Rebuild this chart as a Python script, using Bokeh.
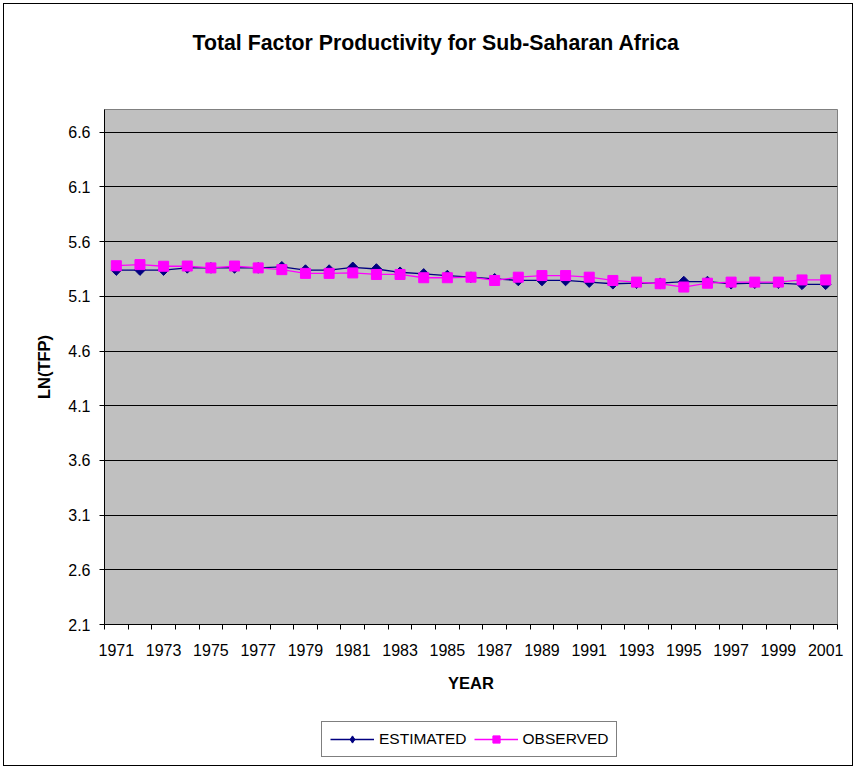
import math
from bokeh.plotting import figure
from bokeh.layouts import column
from bokeh.models import (Range1d, FixedTicker, Legend, LegendItem, ColumnDataSource,
                          NumeralTickFormatter)
from bokeh.embed import file_html
from bokeh.resources import INLINE

years = list(range(1971, 2002))
estimated = [5.34, 5.34, 5.34, 5.36, 5.36, 5.36, 5.36, 5.37, 5.34, 5.34, 5.365, 5.35, 5.32, 5.305, 5.29,
             5.275, 5.26, 5.245, 5.245, 5.245, 5.23, 5.215, 5.22, 5.22, 5.235, 5.235, 5.215, 5.22, 5.22, 5.21, 5.21]
observed = [5.38, 5.39, 5.375, 5.377, 5.36, 5.377, 5.36, 5.344, 5.31, 5.31, 5.314, 5.30, 5.30, 5.27, 5.27,
            5.275, 5.245, 5.275, 5.29, 5.29, 5.275, 5.245, 5.23, 5.215, 5.185, 5.22, 5.23, 5.23, 5.23, 5.25, 5.25]
y_ticks = [2.1, 2.6, 3.1, 3.6, 4.1, 4.6, 5.1, 5.6, 6.1, 6.6]
x_label_years = years[::2]
title_text = "Total Factor Productivity for Sub-Saharan Africa"
series_names = ["ESTIMATED", "OBSERVED"]
series_colors = ["#000080", "#FF00FF"]

FONT = "Liberation Sans"
W = 848

src = ColumnDataSource(dict(year=years, est=estimated, obs=observed))

# ---- title strip ----
p0 = figure(width=W, height=105, output_backend="svg", toolbar_location=None,
            x_axis_type=None, y_axis_type=None, x_range=Range1d(0, 1), y_range=Range1d(0, 1),
            min_border=0, outline_line_color=None)
p0.grid.visible = False
p0.title.text = title_text
p0.title.text_font = FONT
p0.title.text_font_size = "21.3px"
p0.title.text_font_style = "bold"
p0.title.text_color = "black"
p0.title.align = "left"
p0.title.offset = 88
p0.title.standoff = 48

# ---- main chart ----
p = figure(width=W, height=594, output_backend="svg", toolbar_location=None,
           x_range=Range1d(years[0] - 0.5, years[-1] + 0.5),
           y_range=Range1d(2.1, 6.808),
           min_border_left=100, min_border_right=15, min_border_top=0, min_border_bottom=79)

p.background_fill_color = "#C0C0C0"
p.border_fill_color = "white"
p.outline_line_color = "#808080"
p.outline_line_width = 1

p.yaxis.ticker = FixedTicker(ticks=y_ticks)
p.yaxis.formatter = NumeralTickFormatter(format="0.0")
p.yaxis.axis_label = "LN(TFP)"
p.yaxis.axis_label_text_font = FONT
p.yaxis.axis_label_text_font_size = "16.5px"
p.yaxis.axis_label_text_font_style = "bold"
p.yaxis.axis_label_text_color = "black"
p.yaxis.axis_label_standoff = 12
p.yaxis.major_label_text_font = FONT
p.yaxis.major_label_text_font_size = "16px"
p.yaxis.major_label_standoff = 9
p.yaxis.major_tick_out = 5
p.yaxis.major_tick_in = 0
p.yaxis.minor_tick_out = 0
p.yaxis.minor_tick_in = 0
p.yaxis.axis_line_color = "black"
p.yaxis.major_tick_line_color = "black"
p.yaxis.major_label_text_color = "black"

p.xaxis.ticker = FixedTicker(ticks=x_label_years,
                             minor_ticks=[y - 0.5 for y in years] + [years[-1] + 0.5])
p.xaxis.formatter = NumeralTickFormatter(format="0")
p.xaxis.axis_label = "YEAR"
p.xaxis.axis_label_text_font = FONT
p.xaxis.axis_label_text_font_size = "16.5px"
p.xaxis.axis_label_text_font_style = "bold"
p.xaxis.axis_label_text_color = "black"
p.xaxis.axis_label_standoff = 15
p.xaxis.major_label_text_font = FONT
p.xaxis.major_label_text_font_size = "16px"
p.xaxis.major_label_standoff = 14
p.xaxis.major_tick_out = 0
p.xaxis.major_tick_in = 0
p.xaxis.minor_tick_out = 5
p.xaxis.minor_tick_in = 0
p.xaxis.minor_tick_line_color = "black"
p.xaxis.axis_line_color = "black"
p.xaxis.major_label_text_color = "black"

p.xgrid.visible = False
p.ygrid.ticker = FixedTicker(ticks=y_ticks)
p.ygrid.grid_line_color = "black"
p.ygrid.grid_line_width = 1


def add_series(fig, legend_only=False):
    r = []
    r.append(fig.line("year", "est", source=src, line_color=series_colors[0], line_width=1.3))
    if legend_only:
        r.append(fig.scatter("year", "est", source=src, marker="diamond", size=13,
                             fill_color=series_colors[0], line_color=series_colors[0]))
    else:
        r.append(fig.scatter("year", "est", source=src, marker="square", size=7.5, angle=math.pi / 4,
                             fill_color=series_colors[0], line_color=series_colors[0]))
    r.append(fig.line("year", "obs", source=src, line_color=series_colors[1], line_width=1.3))
    r.append(fig.scatter("year", "obs", source=src, marker="square", size=10,
                         fill_color=series_colors[1], line_color=series_colors[1]))
    return r


add_series(p)

# ---- legend strip (series drawn out of view, only the legend shows) ----
p2 = figure(width=W, height=62, output_backend="svg", toolbar_location=None,
            x_axis_type=None, y_axis_type=None, x_range=Range1d(0, 1), y_range=Range1d(0, 1),
            min_border=0, outline_line_color=None)
p2.grid.visible = False
g1, s1, g2, s2 = add_series(p2, legend_only=True)

legend = Legend(items=[LegendItem(label=series_names[0], renderers=[g1, s1]),
                       LegendItem(label=series_names[1], renderers=[g2, s2])],
                orientation="horizontal", location=(217, 8),
                label_text_font=FONT, label_text_font_size="15.5px", label_text_color="black",
                glyph_width=44, glyph_height=18, label_standoff=5, spacing=7,
                padding=8, margin=0,
                border_line_color="black", border_line_width=1,
                background_fill_color="white", background_fill_alpha=1)
p2.add_layout(legend, "center")

layout = column(p0, p, p2, spacing=0,
                styles={"margin": "3px 0 0 3px", "border": "1px solid black"})

open("out.html", "w").write(file_html(layout, INLINE))
